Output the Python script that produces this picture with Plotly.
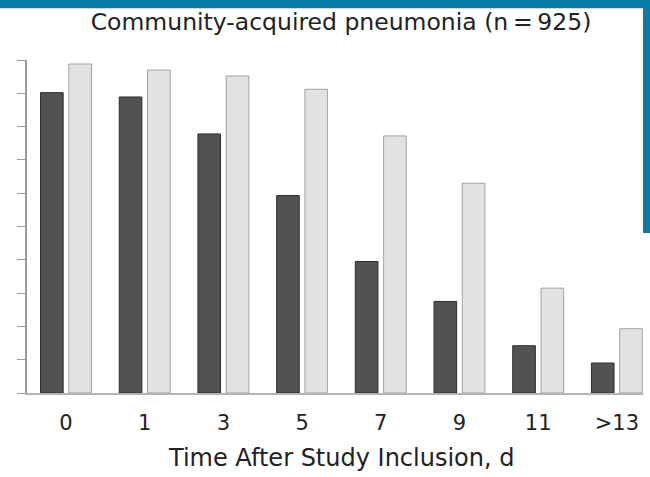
import plotly.graph_objects as go

categories = ["0", "1", "3", "5", "7", "9", "11", ">13"]
dark_values = [90.2, 88.9, 77.8, 59.3, 39.5, 27.5, 14.2, 9.0]
light_values = [98.8, 97.0, 95.2, 91.2, 77.2, 63.0, 31.5, 19.3]
y_tick_values = [0, 10, 20, 30, 40, 50, 60, 70, 80, 90, 100]

title_text = "Community-acquired pneumonia (n\u2009=\u2009925)"
x_title_text = "Time After Study Inclusion, d"

W, H = 650, 477
L, R, T, B = 27, 7, 60, 84
pw, ph = W - L - R, H - T - B

def px_x(p):
    return (p - L) / pw

def px_y(p):
    return (H - B - p) / ph

FONT = "DejaVu Sans"
BLUE = "#0a7ba6"

fig = go.Figure()
fig.add_trace(go.Bar(
    x=categories, y=dark_values, name="Series 1",
    marker=dict(color="#525253", line=dict(color="#2e2e2e", width=1)),
))
fig.add_trace(go.Bar(
    x=categories, y=light_values, name="Series 2",
    marker=dict(color="#e2e2e2", line=dict(color="#a3a3a3", width=1)),
))

fig.update_layout(
    width=W, height=H,
    margin=dict(l=L, r=R, t=T, b=B, pad=0),
    paper_bgcolor="white", plot_bgcolor="white",
    showlegend=False,
    barmode="group", bargap=0.281, bargroupgap=0.2,
    font=dict(family=FONT, color="#222222"),
    title=dict(text=title_text, font=dict(size=23.5, family=FONT, color="#222222"),
               x=341 / W, xanchor="center", xref="container",
               y=1 - 22 / H, yanchor="middle", yref="container"),
)

fig.update_xaxes(
    type="category", range=[-0.4956, 7.332],
    showline=True, linecolor="#b4b4b4", linewidth=2,
    ticks="", showgrid=False, zeroline=False,
    ticklabelstandoff=10,
    tickfont=dict(size=21, family=FONT, color="#222222"),
)
fig.update_yaxes(
    range=[0, 100], tickvals=y_tick_values, showticklabels=False,
    ticks="outside", ticklen=8, tickcolor="#9a9a9a", tickwidth=1,
    showline=True, linecolor="#9a9a9a", linewidth=1.5,
    showgrid=False, zeroline=False,
)

fig.add_annotation(
    text=x_title_text, xref="paper", yref="paper",
    x=px_x(341), y=px_y(458), xanchor="center", yanchor="middle",
    showarrow=False, font=dict(size=24, family=FONT, color="#222222"),
)

# decorative blue frame pieces
fig.add_shape(type="rect", xref="paper", yref="paper",
              x0=px_x(0), x1=px_x(W), y0=px_y(8.3), y1=px_y(0),
              fillcolor=BLUE, line=dict(width=0), layer="above")
fig.add_shape(type="rect", xref="paper", yref="paper",
              x0=px_x(643), x1=px_x(W), y0=px_y(233), y1=px_y(0),
              fillcolor=BLUE, line=dict(width=0), layer="above")

fig.write_html("out.html")
